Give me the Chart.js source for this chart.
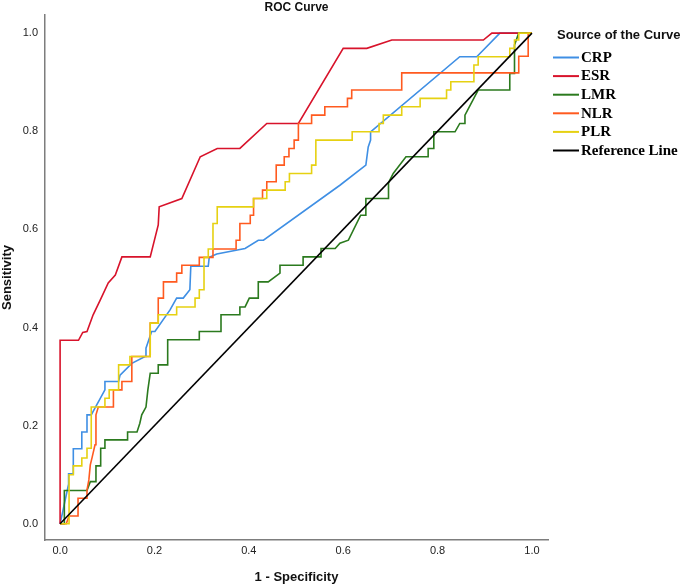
<!DOCTYPE html>
<html><head><meta charset="utf-8">
<script src="https://cdn.jsdelivr.net/npm/chart.js@4.4.1/dist/chart.umd.min.js"></script>
<style>html,body{margin:0;padding:0;background:#fff;}#wrap{width:685px;height:585px;}</style>
</head><body><div id="wrap"><canvas id="c" width="685" height="585"></canvas></div>
<script>
const seriesNames = ['CRP', 'ESR', 'LMR', 'NLR', 'PLR', 'Reference Line'];
const seriesColors = ['#3f8fe4', '#d8132b', '#2b7a1e', '#ff5a1f', '#e6d112', '#000000'];
const chartTitle = 'ROC Curve';
const legendTitle = 'Source of the Curve';
const xTitle = '1 - Specificity';
const yTitle = 'Sensitivity';
const xTicks = [0, 0.2, 0.4, 0.6, 0.8, 1.0];
const yTicks = [0, 0.2, 0.4, 0.6, 0.8, 1.0];

const crpX = [0, 0.018, 0.018, 0.028, 0.028, 0.046, 0.046, 0.057, 0.057, 0.066, 0.095, 0.095, 0.124, 0.127, 0.152, 0.180, 0.182, 0.194, 0.201, 0.233, 0.247, 0.261, 0.275, 0.277, 0.314, 0.316, 0.332, 0.392, 0.420, 0.431, 0.593, 0.648, 0.653, 0.658, 0.658, 0.847, 0.883, 0.932, 1];
const crpY = [0, 0.081, 0.102, 0.102, 0.153, 0.153, 0.187, 0.187, 0.222, 0.222, 0.273, 0.290, 0.290, 0.303, 0.327, 0.341, 0.358, 0.392, 0.392, 0.436, 0.460, 0.460, 0.477, 0.525, 0.525, 0.543, 0.550, 0.561, 0.578, 0.578, 0.690, 0.731, 0.768, 0.782, 0.799, 0.952, 0.952, 1, 1];

const esrX = [0, 0, 0.039, 0.048, 0.057, 0.070, 0.085, 0.102, 0.117, 0.131, 0.191, 0.208, 0.210, 0.258, 0.297, 0.333, 0.381, 0.438, 0.505, 0.600, 0.650, 0.703, 0.897, 0.915, 1];
const esrY = [0, 0.374, 0.374, 0.390, 0.392, 0.426, 0.456, 0.491, 0.507, 0.544, 0.544, 0.609, 0.646, 0.663, 0.748, 0.765, 0.765, 0.816, 0.816, 0.969, 0.969, 0.986, 0.986, 1, 1];

const lmrX = [0, 0.009, 0.009, 0.057, 0.064, 0.076, 0.076, 0.086, 0.086, 0.095, 0.095, 0.143, 0.143, 0.163, 0.169, 0.173, 0.182, 0.186, 0.191, 0.208, 0.208, 0.228, 0.228, 0.295, 0.295, 0.341, 0.341, 0.381, 0.381, 0.392, 0.401, 0.420, 0.420, 0.441, 0.466, 0.466, 0.515, 0.515, 0.553, 0.553, 0.583, 0.593, 0.611, 0.637, 0.648, 0.648, 0.696, 0.696, 0.706, 0.733, 0.780, 0.780, 0.791, 0.792, 0.837, 0.847, 0.856, 0.858, 0.886, 0.953, 0.953, 0.963, 0.963, 0.972, 1];
const lmrY = [0, 0, 0.068, 0.068, 0.086, 0.086, 0.118, 0.118, 0.154, 0.154, 0.171, 0.171, 0.187, 0.187, 0.205, 0.222, 0.238, 0.273, 0.307, 0.307, 0.324, 0.324, 0.375, 0.375, 0.392, 0.392, 0.426, 0.426, 0.442, 0.442, 0.460, 0.460, 0.493, 0.493, 0.511, 0.527, 0.527, 0.544, 0.544, 0.561, 0.561, 0.572, 0.578, 0.629, 0.629, 0.663, 0.663, 0.695, 0.714, 0.748, 0.748, 0.765, 0.765, 0.799, 0.799, 0.816, 0.816, 0.833, 0.884, 0.884, 0.918, 0.918, 0.976, 1, 1];

const nlrX = [0, 0.013, 0.019, 0.038, 0.038, 0.057, 0.057, 0.061, 0.064, 0.068, 0.074, 0.076, 0.081, 0.113, 0.113, 0.131, 0.131, 0.152, 0.152, 0.191, 0.191, 0.208, 0.208, 0.219, 0.219, 0.247, 0.247, 0.258, 0.258, 0.295, 0.295, 0.324, 0.324, 0.373, 0.373, 0.381, 0.381, 0.403, 0.403, 0.410, 0.410, 0.429, 0.429, 0.438, 0.438, 0.458, 0.458, 0.475, 0.475, 0.485, 0.485, 0.496, 0.496, 0.505, 0.505, 0.533, 0.533, 0.561, 0.561, 0.609, 0.609, 0.618, 0.618, 0.724, 0.724, 0.972, 0.972, 0.992, 0.992, 1];
const nlrY = [0, 0, 0.016, 0.016, 0.052, 0.052, 0.069, 0.090, 0.120, 0.136, 0.161, 0.222, 0.238, 0.238, 0.273, 0.273, 0.290, 0.290, 0.341, 0.341, 0.409, 0.409, 0.460, 0.460, 0.493, 0.493, 0.511, 0.511, 0.527, 0.527, 0.543, 0.543, 0.560, 0.560, 0.578, 0.578, 0.612, 0.612, 0.629, 0.629, 0.663, 0.663, 0.680, 0.680, 0.697, 0.697, 0.731, 0.731, 0.748, 0.748, 0.765, 0.765, 0.782, 0.782, 0.816, 0.816, 0.833, 0.833, 0.850, 0.850, 0.867, 0.867, 0.884, 0.884, 0.919, 0.919, 0.953, 0.953, 1, 1];

const plrX = [0, 0.019, 0.019, 0.028, 0.028, 0.046, 0.046, 0.057, 0.057, 0.066, 0.066, 0.095, 0.095, 0.104, 0.104, 0.124, 0.124, 0.148, 0.148, 0.191, 0.191, 0.208, 0.208, 0.247, 0.247, 0.286, 0.286, 0.295, 0.295, 0.305, 0.305, 0.314, 0.314, 0.324, 0.324, 0.333, 0.333, 0.410, 0.410, 0.438, 0.438, 0.477, 0.477, 0.486, 0.486, 0.533, 0.533, 0.542, 0.542, 0.619, 0.619, 0.676, 0.676, 0.685, 0.685, 0.724, 0.724, 0.763, 0.763, 0.819, 0.819, 0.828, 0.828, 0.877, 0.877, 0.886, 0.886, 0.953, 0.953, 0.963, 0.963, 0.972, 0.972, 1];
const plrY = [0, 0, 0.100, 0.100, 0.118, 0.118, 0.134, 0.134, 0.154, 0.154, 0.238, 0.238, 0.256, 0.256, 0.273, 0.273, 0.324, 0.324, 0.341, 0.341, 0.409, 0.409, 0.426, 0.426, 0.442, 0.442, 0.460, 0.460, 0.477, 0.477, 0.543, 0.543, 0.560, 0.560, 0.612, 0.612, 0.646, 0.646, 0.663, 0.663, 0.680, 0.680, 0.697, 0.697, 0.714, 0.714, 0.731, 0.731, 0.782, 0.782, 0.799, 0.799, 0.816, 0.816, 0.833, 0.833, 0.850, 0.850, 0.867, 0.867, 0.884, 0.884, 0.901, 0.901, 0.935, 0.935, 0.952, 0.952, 0.969, 0.969, 0.986, 0.986, 1, 1];

const refX = [0, 1];
const refY = [0, 1];

const allX = [crpX, esrX, lmrX, nlrX, plrX, refX];
const allY = [crpY, esrY, lmrY, nlrY, plrY, refY];

const datasets = seriesNames.map((name, i) => ({
  label: name,
  data: allX[i].map((x, k) => ({ x: x, y: allY[i][k] })),
  borderColor: seriesColors[i],
  backgroundColor: seriesColors[i],
  borderWidth: 1.6,
  pointRadius: 0,
  pointHoverRadius: 0,
  showLine: true,
  tension: 0,
  fill: false,
  order: seriesNames.length - 1 - i
}));

const decor = {
  id: 'decor',
  afterDraw(chart) {
    const ctx = chart.ctx;
    const area = chart.chartArea;
    ctx.save();
    ctx.fillStyle = '#111';
    ctx.textBaseline = 'middle';
    ctx.textAlign = 'center';
    ctx.font = 'bold 12px "Liberation Sans", Arial, sans-serif';
    ctx.fillText(chartTitle, (area.left + area.right) / 2, 8);
    ctx.textAlign = 'left';
    ctx.font = 'bold 13px "Liberation Sans", Arial, sans-serif';
    ctx.fillText(legendTitle, 557, 35);
    ctx.font = 'bold 15px "Liberation Serif", "Times New Roman", serif';
    chart.data.datasets.forEach((ds, i) => {
      const y = 57.5 + i * 18.6;
      ctx.strokeStyle = ds.borderColor;
      ctx.lineWidth = 2;
      ctx.beginPath();
      ctx.moveTo(553, y);
      ctx.lineTo(579, y);
      ctx.stroke();
      ctx.fillStyle = '#000';
      ctx.fillText(ds.label, 581, y + 0.5);
    });
    ctx.restore();
  }
};

const axisTickFont = { family: '"Liberation Sans", Arial, sans-serif', size: 11 };
const axisTitleFont = { family: '"Liberation Sans", Arial, sans-serif', size: 13, weight: 'bold' };

new Chart(document.getElementById('c'), {
  type: 'scatter',
  data: { datasets: datasets },
  options: {
    responsive: false,
    animation: false,
    devicePixelRatio: 1,
    layout: { padding: { top: 15, right: 137, bottom: 0, left: 0 } },
    plugins: {
      legend: { display: false },
      title: { display: false },
      tooltip: { enabled: false }
    },
    scales: {
      x: {
        type: 'linear',
        min: -0.032,
        max: 1.034,
        afterBuildTicks: (s) => { s.ticks = xTicks.map(v => ({ value: v })); },
        afterFit: (s) => { s.height = 45; },
        ticks: { callback: (v) => Number(v).toFixed(1), font: axisTickFont, color: '#222', padding: 4, maxRotation: 0, autoSkip: false },
        grid: { display: false, drawTicks: false },
        border: { display: true, color: '#7d7d7d', width: 1.5 },
        title: { display: true, text: xTitle, font: axisTitleFont, color: '#111', padding: { top: 0, bottom: 0 } }
      },
      y: {
        type: 'linear',
        min: -0.033,
        max: 1.037,
        afterBuildTicks: (s) => { s.ticks = yTicks.map(v => ({ value: v })); },
        afterFit: (s) => { s.width = 45; },
        ticks: { callback: (v) => Number(v).toFixed(1), font: axisTickFont, color: '#222', padding: 7, autoSkip: false },
        grid: { display: false, drawTicks: false },
        border: { display: true, color: '#7d7d7d', width: 1.5 },
        title: { display: true, text: yTitle, font: axisTitleFont, color: '#111', padding: { top: 0, bottom: 0 } }
      }
    }
  },
  plugins: [decor]
});
</script>
</body></html>
